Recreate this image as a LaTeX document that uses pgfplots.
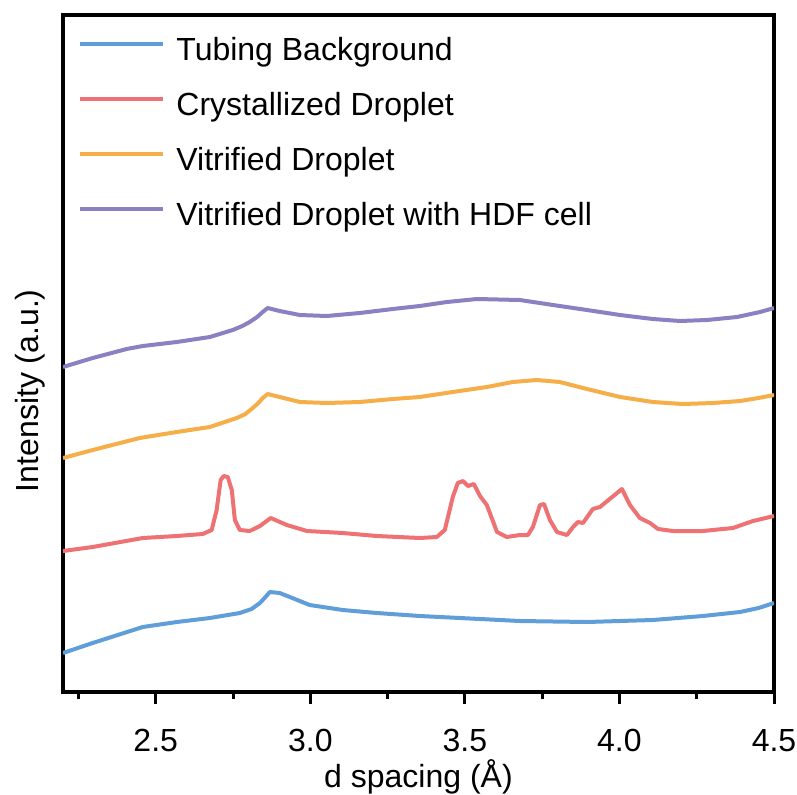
\documentclass[border=0pt]{standalone}
\usepackage{fontspec}
\setmainfont{Liberation Sans}
\usepackage{pgfplots}
\pgfplotsset{compat=1.18}
\definecolor{cblue}{RGB}{96,158,218}
\definecolor{cred}{RGB}{238,114,115}
\definecolor{corange}{RGB}{245,174,72}
\definecolor{cpurple}{RGB}{138,128,194}
\begin{document}
\begin{tikzpicture}
\path[use as bounding box] (-31.5pt,-51pt) rectangle (367pt,346pt);
\begin{axis}[
  at={(0,0)}, anchor=south west,
  scale only axis, width=355.5pt, height=338.5pt,
  xmin=2.2, xmax=4.5, ymin=102, ymax=779,
  xtick={2.5,3.0,3.5,4.0,4.5},
  minor xtick={2.25,2.75,3.25,3.75,4.25},
  ytick=\empty,
  xtick pos=left, tick align=outside,
  major tick length=6pt, minor tick length=3.5pt,
  every tick/.style={black, line width=1.5pt},
  axis line style={line width=1.6pt},
  /pgf/number format/assume math mode=true,
  xticklabel={\pgfmathprintnumber[fixed,fixed zerofill,precision=1]{\tick}},
  tick label style={font=\fontsize{16}{19}\selectfont},
  xticklabel style={yshift=-9pt},
  label style={font=\fontsize{16}{19}\selectfont},
  xlabel={d spacing (Å)},
  ylabel={Intensity (a.u.)},
  xlabel style={at={(axis description cs:0.5,0)}, anchor=base, yshift=-47.5pt},
  ylabel style={at={(axis description cs:-0.046,0.445)}, anchor=center, rotate=0},
  legend style={font=\fontsize{16}{19}\selectfont, draw=none, fill=none,
    at={(axis description cs:0,1)}, anchor=north west, xshift=7.5pt, yshift=-10.5pt,
    inner sep=0pt, row sep=11.5pt,
    nodes={inner sep=0pt, text height=12pt, text depth=4pt}},
  /tikz/every odd column/.append style={column sep=5.5pt},
  legend cell align=left,
  legend image code/.code={\draw[#1, line width=2pt] (0pt,4pt) -- (41.5pt,4pt);},
  every axis plot/.append style={line width=2pt, line join=round},
]
\addplot[cblue, no markers] coordinates {
(2.2,141) (2.296,151) (2.458,167) (2.568,172) (2.675,176) (2.772,181) (2.810,185) (2.837,191) (2.855,197) (2.869,202) (2.901,201) (2.95,195) (2.998,189) (3.105,184) (3.215,181) (3.354,178) (3.484,176) (3.678,173) (3.895,172) (4.108,174) (4.270,178) (4.390,182) (4.45,186) (4.5,191)
};
\addlegendentry{Tubing Background}
\addplot[cred, no markers] coordinates {
(2.2,243) (2.296,247) (2.458,256) (2.568,258) (2.652,260) (2.681,264) (2.697,284) (2.710,314) (2.720,318) (2.733,317) (2.746,304) (2.756,274) (2.772,264) (2.804,263) (2.837,268) (2.872,276) (2.924,269) (2.989,263) (3.105,261) (3.215,258) (3.354,256) (3.409,257) (3.435,264) (3.461,297) (3.477,311) (3.494,313) (3.510,308) (3.529,310) (3.549,298) (3.571,289) (3.604,262) (3.636,257) (3.678,259) (3.704,259) (3.720,267) (3.743,289) (3.756,290) (3.775,274) (3.798,262) (3.830,259) (3.850,267) (3.866,272) (3.882,271) (3.914,285) (3.937,287) (4.008,305) (4.034,289) (4.066,276) (4.099,271) (4.125,265) (4.173,263) (4.270,263) (4.367,266) (4.432,273) (4.5,278)
};
\addlegendentry{Crystallized Droplet}
\addplot[corange, no markers] coordinates {
(2.2,336) (2.296,344) (2.448,356) (2.568,362) (2.675,367) (2.762,376) (2.790,380) (2.814,386) (2.832,391) (2.846,396) (2.862,400) (2.901,397) (2.966,392) (3.053,391) (3.160,392) (3.267,395) (3.354,397) (3.461,402) (3.571,407) (3.655,412) (3.733,414) (3.807,412) (3.895,405) (4.002,397) (4.108,392) (4.205,390) (4.303,391) (4.390,393) (4.45,396) (4.5,399)
};
\addlegendentry{Vitrified Droplet}
\addplot[cpurple, no markers] coordinates {
(2.2,427) (2.296,436) (2.406,445) (2.458,448) (2.568,452) (2.675,457) (2.749,464) (2.780,468) (2.804,472) (2.828,477) (2.846,482) (2.862,486) (2.901,483) (2.966,479) (3.053,478) (3.160,481) (3.267,485) (3.354,488) (3.442,492) (3.539,495) (3.678,494) (3.785,489) (3.895,484) (4.002,479) (4.108,475) (4.196,473) (4.283,474) (4.380,477) (4.455,482) (4.5,486)
};
\addlegendentry{Vitrified Droplet with HDF cell}
\end{axis}
\end{tikzpicture}
\end{document}
